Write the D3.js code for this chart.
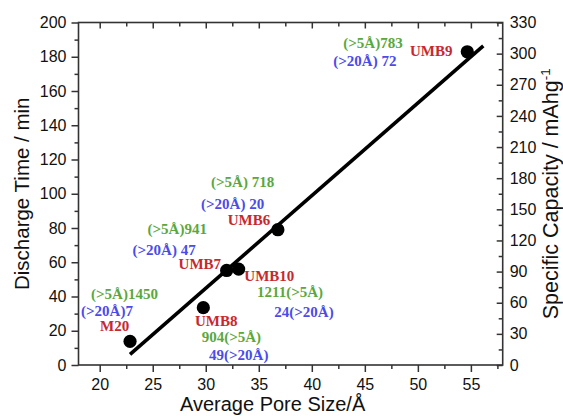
<!DOCTYPE html>
<html>
<head>
<meta charset="utf-8">
<script src="https://cdn.jsdelivr.net/npm/d3@7"></script>
<style>
  html, body { margin: 0; padding: 0; background: #fff; }
  svg { display: block; }
  .tick text { font-family: "Liberation Sans", Arial, sans-serif; font-size: 16px; fill: #111; }
</style>
</head>
<body>
<svg id="chart" width="563" height="416"></svg>
<script>
// ---- data ----
const sampleNames = ["M20", "UMB8", "UMB7", "UMB10", "UMB6", "UMB9"];
const poreSize = [22.86, 29.77, 31.97, 33.1, 36.8, 54.66];      // Å
const dischargeTime = [13.8, 33.5, 55.2, 56.0, 79.0, 182.9];    // min
const micro5Label = ["(>5Å)1450", "904(>5Å)", "(>5Å)941", "1211(>5Å)", "(>5Å) 718", "(>5Å)783"];
const micro20Label = ["(>20Å)7", "49(>20Å)", "(>20Å) 47", "24(>20Å)", "(>20Å) 20", "(>20Å) 72"];
const fitX = [22.86, 56.17];
const fitY = [6.2, 186.3];
const xTicks = [20, 25, 30, 35, 40, 45, 50, 55];
const yLeftTicks = [0, 20, 40, 60, 80, 100, 120, 140, 160, 180, 200];
const yRightTicks = [0, 30, 60, 90, 120, 150, 180, 210, 240, 270, 300, 330];

// ---- layout (pixel offsets of annotations from each point) ----
const labelOffsets = [
  { name: [-30, -10.6], g: [-39, -42.1], b: [-49, -25.6] },
  { name: [-8.3, 18.1], g: [-1.6, 34.1], b: [5.7, 52.4] },
  { name: [-48.1, -1.2], g: [-79.1, -36.5], b: [-94.1, -15.5] },
  { name: [5.7, 11.6], g: [18.4, 27.6], b: [35.7, 47.6] },
  { name: [-50.2, -4.7], g: [-66.8, -42.4], b: [-76.8, -20.4] },
  { name: [-57.3, 3.9], g: [-124, -3.5], b: [-134, 14.2] }
];
const colRed = "#c8282d", colGreen = "#5aa83c", colBlue = "#4b4bea";

const svg = d3.select("#chart");
const L = 78.5, R = 502.7, T = 22.5, B = 365;
const x = d3.scaleLinear().domain([18, 58]).range([L, R]);
const y = d3.scaleLinear().domain([0, 200]).range([B, T]);
const y2 = d3.scaleLinear().domain([0, 330]).range([B, T]);
const axisColor = "#333";

function styleAxis(g) {
  g.selectAll(".domain").remove();
  g.selectAll(".tick line").attr("stroke", axisColor).attr("stroke-width", 1.5);
}
function minor(start, stop, step, skip) {
  const out = [];
  for (let v = start; v <= stop + 1e-9; v += step) {
    if (!skip.some(s => Math.abs(s - v) < 1e-9)) out.push(+v.toFixed(4));
  }
  return out;
}

// bottom axis
svg.append("g").attr("transform", `translate(0,${B})`)
  .call(d3.axisBottom(x).tickValues(xTicks).tickSize(7).tickPadding(6.5).tickFormat(d3.format("d")))
  .call(styleAxis);
svg.append("g").attr("transform", `translate(0,${B})`)
  .call(d3.axisBottom(x).tickValues(minor(20, 57.5, 2.5, xTicks)).tickSize(4).tickFormat(""))
  .call(styleAxis);
// top axis (inward)
svg.append("g").attr("transform", `translate(0,${T})`)
  .call(d3.axisTop(x).tickValues(xTicks).tickSize(-6).tickFormat(""))
  .call(styleAxis);
svg.append("g").attr("transform", `translate(0,${T})`)
  .call(d3.axisTop(x).tickValues(minor(20, 57.5, 2.5, xTicks)).tickSize(-4).tickFormat(""))
  .call(styleAxis);
// left axis
svg.append("g").attr("transform", `translate(${L},0)`)
  .call(d3.axisLeft(y).tickValues(yLeftTicks).tickSize(7).tickPadding(5).tickFormat(d3.format("d")))
  .call(styleAxis);
svg.append("g").attr("transform", `translate(${L},0)`)
  .call(d3.axisLeft(y).tickValues(minor(10, 190, 20, [])).tickSize(4).tickFormat(""))
  .call(styleAxis);
// right axis (inward ticks)
svg.append("g").attr("transform", `translate(${R},0)`)
  .call(d3.axisRight(y2).tickValues(yRightTicks).tickSize(-6).tickPadding(7).tickFormat(d3.format("d")))
  .call(styleAxis);
svg.append("g").attr("transform", `translate(${R},0)`)
  .call(d3.axisRight(y2).tickValues(minor(15, 315, 30, [])).tickSize(-4).tickFormat(""))
  .call(styleAxis);

// frame
svg.append("rect").attr("x", L).attr("y", T).attr("width", R - L).attr("height", B - T)
  .attr("fill", "none").attr("stroke", axisColor).attr("stroke-width", 1.6);

// fit line
svg.append("line")
  .attr("x1", x(fitX[0])).attr("y1", y(fitY[0]))
  .attr("x2", x(fitX[1])).attr("y2", y(fitY[1]))
  .attr("stroke", "#000").attr("stroke-width", 3.6);

// points
const pts = sampleNames.map((n, i) => ({ n, px: x(poreSize[i]), py: y(dischargeTime[i]), i }));
svg.append("g").selectAll("circle").data(pts).join("circle")
  .attr("cx", d => d.px).attr("cy", d => d.py).attr("r", 6.6).attr("fill", "#000");

// annotations
const ann = svg.append("g").attr("font-family", "'Liberation Serif', 'Times New Roman', serif")
  .attr("font-weight", "bold").attr("font-size", 15);
pts.forEach(d => {
  const o = labelOffsets[d.i];
  ann.append("text").attr("x", d.px + o.name[0]).attr("y", d.py + o.name[1]).attr("fill", colRed).text(d.n);
  ann.append("text").attr("x", d.px + o.g[0]).attr("y", d.py + o.g[1]).attr("fill", colGreen).text(micro5Label[d.i]);
  ann.append("text").attr("x", d.px + o.b[0]).attr("y", d.py + o.b[1]).attr("fill", colBlue).text(micro20Label[d.i]);
});

// axis titles
const titleFont = "'Liberation Sans', Arial, sans-serif";
svg.append("text").attr("x", (L + R) / 2 - 18).attr("y", 411)
  .attr("text-anchor", "middle").attr("font-family", titleFont).attr("font-size", 20).attr("fill", "#111")
  .text("Average Pore Size/Å");
svg.append("text").attr("transform", `translate(29,${(T + B) / 2}) rotate(-90)`)
  .attr("text-anchor", "middle").attr("font-family", titleFont).attr("font-size", 20.5).attr("fill", "#111")
  .text("Discharge Time / min");
const rt = svg.append("text").attr("transform", `translate(558,${(T + B) / 2}) rotate(-90)`)
  .attr("text-anchor", "middle").attr("font-family", titleFont).attr("font-size", 21.5).attr("fill", "#111");
rt.append("tspan").text("Specific Capacity / mAhg");
rt.append("tspan").attr("font-size", 13.5).attr("dy", -8).text("-1");
</script>
</body>
</html>
